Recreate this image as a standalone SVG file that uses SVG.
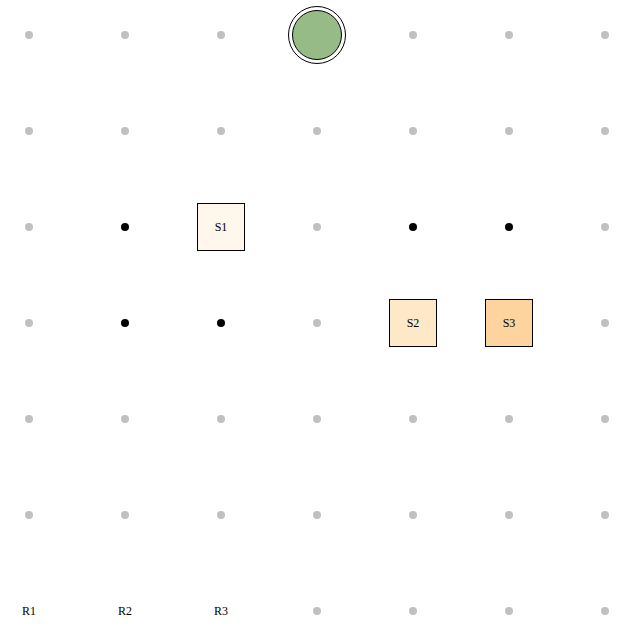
<svg xmlns="http://www.w3.org/2000/svg" width="635" height="640" viewBox="0 0 635 640">
<style>
.g{fill:#c0c0c0}
.b{fill:#000}
.sq{stroke:#000;stroke-width:1}
.t{font-family:"Liberation Serif",serif;font-size:12px;fill:#000;text-anchor:middle;dominant-baseline:central}
</style>
<rect width="635" height="640" fill="#fff"/>
<g id="grid">
<circle class="g" cx="29" cy="35" r="4"/><circle class="g" cx="125" cy="35" r="4"/><circle class="g" cx="221" cy="35" r="4"/><circle class="g" cx="413" cy="35" r="4"/><circle class="g" cx="509" cy="35" r="4"/><circle class="g" cx="605" cy="35" r="4"/>
<circle class="g" cx="29" cy="131" r="4"/><circle class="g" cx="125" cy="131" r="4"/><circle class="g" cx="221" cy="131" r="4"/><circle class="g" cx="317" cy="131" r="4"/><circle class="g" cx="413" cy="131" r="4"/><circle class="g" cx="509" cy="131" r="4"/><circle class="g" cx="605" cy="131" r="4"/>
<circle class="g" cx="29" cy="227" r="4"/><circle class="g" cx="317" cy="227" r="4"/><circle class="g" cx="605" cy="227" r="4"/>
<circle class="g" cx="29" cy="323" r="4"/><circle class="g" cx="317" cy="323" r="4"/><circle class="g" cx="605" cy="323" r="4"/>
<circle class="g" cx="29" cy="419" r="4"/><circle class="g" cx="125" cy="419" r="4"/><circle class="g" cx="221" cy="419" r="4"/><circle class="g" cx="317" cy="419" r="4"/><circle class="g" cx="413" cy="419" r="4"/><circle class="g" cx="509" cy="419" r="4"/><circle class="g" cx="605" cy="419" r="4"/>
<circle class="g" cx="29" cy="515" r="4"/><circle class="g" cx="125" cy="515" r="4"/><circle class="g" cx="221" cy="515" r="4"/><circle class="g" cx="317" cy="515" r="4"/><circle class="g" cx="413" cy="515" r="4"/><circle class="g" cx="509" cy="515" r="4"/><circle class="g" cx="605" cy="515" r="4"/>
<circle class="g" cx="317" cy="611" r="4"/><circle class="g" cx="413" cy="611" r="4"/><circle class="g" cx="509" cy="611" r="4"/><circle class="g" cx="605" cy="611" r="4"/>
</g>
<g id="black-dots">
<circle class="b" cx="125" cy="227" r="4"/><circle class="b" cx="413" cy="227" r="4"/><circle class="b" cx="509" cy="227" r="4"/><circle class="b" cx="125" cy="323" r="4"/><circle class="b" cx="221" cy="323" r="4"/>
</g>
<g id="goal">
<circle cx="317" cy="35" r="28.5" fill="#fff" stroke="#000" stroke-width="1"/>
<circle cx="317" cy="35" r="24.5" fill="#97bb87" stroke="#000" stroke-width="1"/>
</g>
<g id="S1"><rect class="sq" x="197.5" y="203.5" width="47" height="47" fill="#fff7eb"/><text class="t" x="221" y="227">S1</text></g>
<g id="S2"><rect class="sq" x="389.5" y="299.5" width="47" height="47" fill="#fee8c8"/><text class="t" x="413" y="323">S2</text></g>
<g id="S3"><rect class="sq" x="485.5" y="299.5" width="47" height="47" fill="#fdd49e"/><text class="t" x="509" y="323">S3</text></g>
<g id="labels">
<text class="t" x="29" y="611">R1</text><text class="t" x="125" y="611">R2</text><text class="t" x="221" y="611">R3</text>
</g>
<g id="connectors"/>
</svg>
